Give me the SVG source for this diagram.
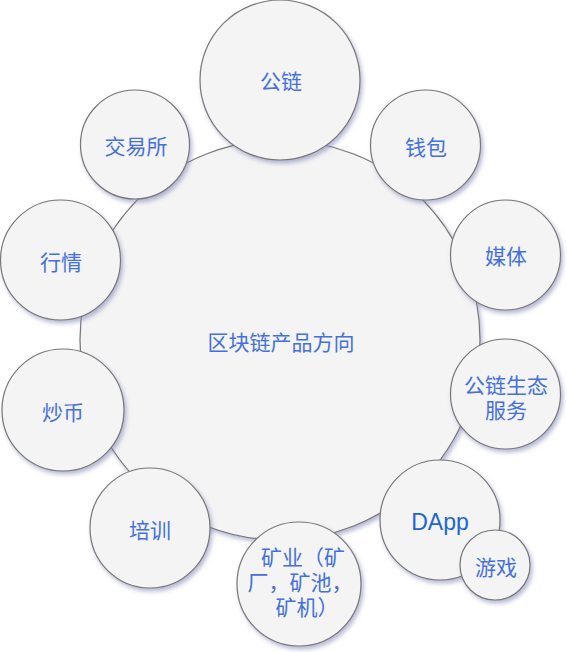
<svg xmlns="http://www.w3.org/2000/svg" width="567" height="652" viewBox="0 0 567 652">
<defs>
<filter id="sh" x="-20%" y="-20%" width="140%" height="140%">
<feDropShadow dx="2" dy="3" stdDeviation="2" flood-color="#7a82b0" flood-opacity="0.55"/>
</filter>
<style>
.c{fill:#f4f4f5;stroke:#777;stroke-width:1.2;filter:url(#sh)}
.t{font-family:"Noto Sans CJK SC","Liberation Sans",sans-serif;font-size:21px;fill:#4470dd;text-anchor:middle;dominant-baseline:central}
.m{font-family:"Liberation Sans","Noto Sans CJK SC",sans-serif}
.e{font-family:"Liberation Sans","DejaVu Sans",sans-serif;font-size:23px;fill:#1d66d2;text-anchor:middle;dominant-baseline:central}
</style>
</defs>
<g id="center">
<circle class="c" cx="280" cy="340" r="200"/>
<text class="t" x="281" y="341">区块链产品方向</text>
</g>
<g id="gonglian">
<circle class="c" cx="280" cy="80" r="80"/>
<text class="t" x="281" y="80">公链</text>
</g>
<g id="jiaoyisuo">
<circle class="c" cx="135" cy="144.5" r="54.5"/>
<text class="t" x="136" y="145">交易所</text>
</g>
<g id="qianbao">
<circle class="c" cx="425.5" cy="145" r="55"/>
<text class="t" x="426" y="146">钱包</text>
</g>
<g id="hangqing">
<circle class="c" cx="60.5" cy="260" r="60"/>
<text class="t" x="61" y="261">行情</text>
</g>
<g id="meiti">
<circle class="c" cx="505.5" cy="255" r="55"/>
<text class="t" x="506" y="255">媒体</text>
</g>
<g id="chaobi">
<circle class="c" cx="63" cy="410" r="61"/>
<text class="t" x="63" y="411">炒币</text>
</g>
<g id="shengtai">
<circle class="c" cx="505.5" cy="394" r="55"/>
<text class="t m"><tspan x="506" y="385">公链生态</tspan><tspan x="506" y="410">服务</tspan></text>
</g>
<g id="peixun">
<circle class="c" cx="150" cy="528" r="60"/>
<text class="t" x="150" y="529">培训</text>
</g>
<g id="kuangye">
<circle class="c" cx="299" cy="584" r="62"/>
<text class="t m"><tspan x="303" y="557">矿业（矿</tspan><tspan x="300" y="582">厂，矿池，</tspan><tspan x="307" y="607">矿机）</tspan></text>
</g>
<g id="dapp">
<circle class="c" cx="440" cy="520" r="60"/>
<text class="e" x="440" y="522">DApp</text>
</g>
<g id="youxi">
<circle class="c" cx="495" cy="565" r="35"/>
<text class="t" x="496" y="566">游戏</text>
</g>
</svg>
